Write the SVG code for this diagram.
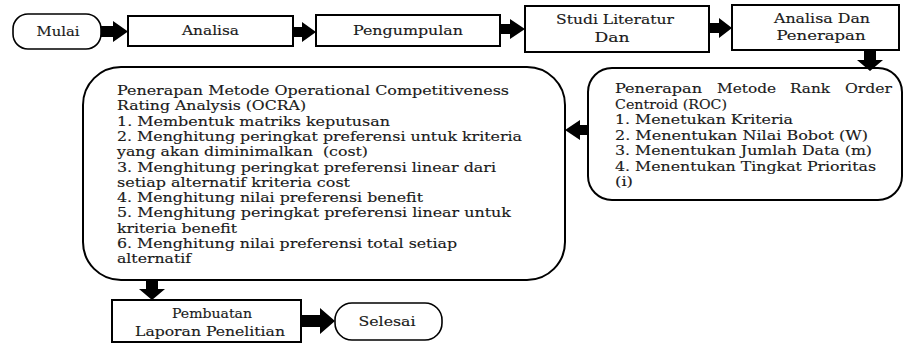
<svg xmlns="http://www.w3.org/2000/svg" width="904" height="347" viewBox="0 0 904 347">
<style>
.box{fill:#fff;stroke:#000;stroke-width:2}
.term{fill:#fff;stroke:#000;stroke-width:1.6}
.t{font-family:"DejaVu Serif","Liberation Serif",serif;font-size:13.5px;fill:#1a1a1a;stroke:#1a1a1a;stroke-width:0.15}
.c{text-anchor:middle}
.arr{fill:#000;stroke:none}
</style>
<rect width="904" height="347" fill="#fff"/>
<g id="mulai">
<rect class="term" x="13" y="14" width="88" height="35" rx="15"/>
<text class="t c" x="58" y="36" textLength="43" lengthAdjust="spacingAndGlyphs">Mulai</text>
</g>
<g id="analisa">
<rect class="box" x="128" y="16" width="165" height="30"/>
<text class="t c" x="210.5" y="35" textLength="57" lengthAdjust="spacingAndGlyphs">Analisa</text>
</g>
<g id="pengumpulan">
<rect class="box" x="316" y="15" width="184" height="31"/>
<text class="t c" x="408" y="35" textLength="110" lengthAdjust="spacingAndGlyphs">Pengumpulan</text>
</g>
<g id="studi">
<rect class="box" x="525" y="6" width="184" height="46"/>
<text class="t c" x="615" y="24" textLength="118" lengthAdjust="spacingAndGlyphs">Studi Literatur</text>
<text class="t c" x="612" y="42" textLength="35" lengthAdjust="spacingAndGlyphs">Dan</text>
</g>
<g id="analisa-dan">
<rect class="box" x="732" y="5" width="167" height="45"/>
<text class="t c" x="822" y="23" textLength="96" lengthAdjust="spacingAndGlyphs">Analisa Dan</text>
<text class="t c" x="821" y="40" textLength="89" lengthAdjust="spacingAndGlyphs">Penerapan</text>
</g>
<g id="roc">
<rect class="box" x="588" y="68" width="314" height="132" rx="24"/>
<text class="t" y="93"><tspan x="615" textLength="87" lengthAdjust="spacingAndGlyphs">Penerapan</tspan><tspan x="717" textLength="59" lengthAdjust="spacingAndGlyphs">Metode</tspan><tspan x="790" textLength="40" lengthAdjust="spacingAndGlyphs">Rank</tspan><tspan x="845" textLength="47" lengthAdjust="spacingAndGlyphs">Order</tspan></text>
<text class="t" x="615" y="108.5" textLength="112" lengthAdjust="spacingAndGlyphs">Centroid (ROC)</text>
<text class="t" x="615" y="124" textLength="178" lengthAdjust="spacingAndGlyphs">1. Menetukan Kriteria</text>
<text class="t" x="615" y="139.5" textLength="253" lengthAdjust="spacingAndGlyphs">2. Menentukan Nilai Bobot (W)</text>
<text class="t" x="615" y="155" textLength="257" lengthAdjust="spacingAndGlyphs">3. Menentukan Jumlah Data (m)</text>
<text class="t" x="615" y="170.5" textLength="261" lengthAdjust="spacingAndGlyphs">4. Menentukan Tingkat Prioritas</text>
<text class="t" x="615" y="186" textLength="18" lengthAdjust="spacingAndGlyphs">(i)</text>
</g>
<g id="ocra">
<rect class="box" x="83" y="67" width="482" height="213" rx="38"/>
<text class="t" x="117" y="95" textLength="392" lengthAdjust="spacingAndGlyphs">Penerapan Metode Operational Competitiveness</text>
<text class="t" x="117" y="110.3" textLength="189" lengthAdjust="spacingAndGlyphs">Rating Analysis (OCRA)</text>
<text class="t" x="117" y="125.6" textLength="273" lengthAdjust="spacingAndGlyphs">1. Membentuk matriks keputusan</text>
<text class="t" x="117" y="140.9" textLength="405" lengthAdjust="spacingAndGlyphs">2. Menghitung peringkat preferensi untuk kriteria</text>
<text class="t" x="117" y="156.2" textLength="251" lengthAdjust="spacingAndGlyphs" xml:space="preserve">yang akan diminimalkan  (cost)</text>
<text class="t" x="117" y="171.5" textLength="379" lengthAdjust="spacingAndGlyphs">3. Menghitung peringkat preferensi linear dari</text>
<text class="t" x="117" y="186.8" textLength="233" lengthAdjust="spacingAndGlyphs">setiap alternatif kriteria cost</text>
<text class="t" x="117" y="202.1" textLength="306" lengthAdjust="spacingAndGlyphs">4. Menghitung nilai preferensi benefit</text>
<text class="t" x="117" y="217.4" textLength="394" lengthAdjust="spacingAndGlyphs">5. Menghitung peringkat preferensi linear untuk</text>
<text class="t" x="117" y="232.7" textLength="120" lengthAdjust="spacingAndGlyphs">kriteria benefit</text>
<text class="t" x="117" y="248" textLength="340" lengthAdjust="spacingAndGlyphs">6. Menghitung nilai preferensi total setiap</text>
<text class="t" x="117" y="263.3" textLength="74" lengthAdjust="spacingAndGlyphs">alternatif</text>
</g>
<g id="pembuatan">
<rect class="box" x="112" y="300" width="189" height="42"/>
<text class="t c" x="212" y="318" textLength="80" lengthAdjust="spacingAndGlyphs">Pembuatan</text>
<text class="t c" x="210" y="336" textLength="150" lengthAdjust="spacingAndGlyphs">Laporan Penelitian</text>
</g>
<g id="selesai">
<rect class="term" x="335" y="303" width="107" height="37" rx="17"/>
<text class="t c" x="387" y="326" textLength="57" lengthAdjust="spacingAndGlyphs">Selesai</text>
</g>
<g id="connectors">
<polygon class="arr" points="101,26 113,26 113,21 128,31.5 113,42 113,37 101,37"/>
<polygon class="arr" points="293,27 302,27 302,22 316,32 302,42 302,37 293,37"/>
<polygon class="arr" points="500,24 510,24 510,19 525,29 510,39 510,34 500,34"/>
<polygon class="arr" points="709,23 719,23 719,18 732,28 719,38 719,33 709,33"/>
<polygon class="arr" points="864,50 876,50 876,60 883,60 870,71 857,60 864,60"/>
<polygon class="arr" points="588,125 580,125 580,120 565,130 580,140 580,135 588,135"/>
<polygon class="arr" points="146,280 158,280 158,289 165,289 152,300 139,289 146,289"/>
<polygon class="arr" points="301,315 320,315 320,308 335,321 320,334 320,327 301,327"/>
</g>
</svg>
